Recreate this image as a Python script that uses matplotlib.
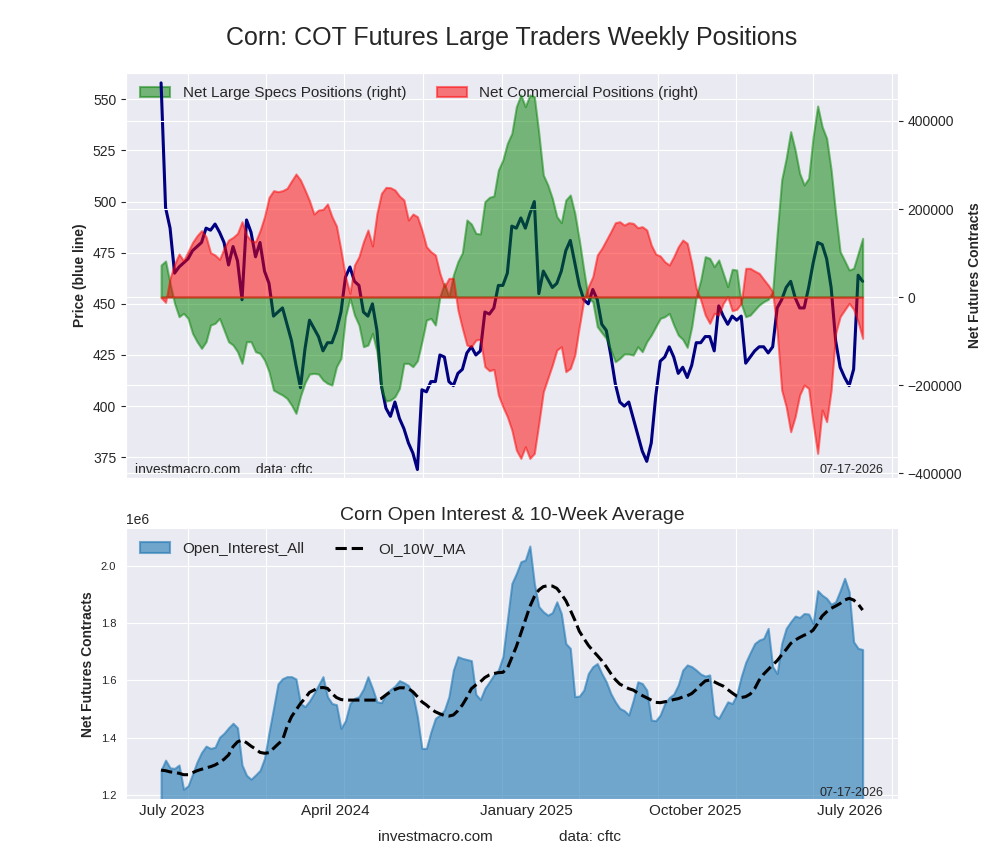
import numpy as np
import pandas as pd
import matplotlib

matplotlib.use("Agg")
import matplotlib.pyplot as plt
import matplotlib.dates as mdates
import matplotlib.ticker as mticker
import seaborn as sns

sns.set_style("darkgrid")
plt.rcParams["font.family"] = ["Liberation Sans", "DejaVu Sans"]

# Weekly data, last report 07-17-2026
LAST_DATE = "2026-07-17"

price = [558, 497, 487, 465, 468, 470, 472, 476, 478, 480,
         487, 486, 489, 485, 480, 469, 478, 471, 452, 491,
         485, 473, 480, 466, 460, 444, 446, 448, 440, 432,
         420, 409, 428, 442, 438, 434, 427, 431, 431, 437,
         446, 463, 468, 461, 459, 446, 444, 450, 437, 410,
         399, 395, 402, 394, 389, 382, 377, 369, 408, 407,
         412, 412, 425, 424, 412, 410, 416, 418, 426, 429,
         425, 427, 446, 445, 448, 459, 459, 465, 488, 487,
         492, 487, 494, 500, 455, 466, 462, 458, 460, 466,
         476, 481, 470, 459, 452, 450, 457, 452, 440, 437,
         425, 411, 402, 400, 402, 394, 386, 378, 373, 382,
         405, 422, 424, 429, 424, 416, 419, 414, 420, 431,
         431, 434, 434, 427, 449, 444, 440, 444, 442, 444,
         421, 424, 427, 429, 429, 426, 429, 448, 452, 458,
         461, 453, 448, 448, 458, 470, 480, 479, 472, 458,
         432, 419, 414, 410, 418, 464, 461]

large_specs_net = [72700, 81800, 31100, -14400, -44700, -37100, -48500, -82600, -101500, -116700,
                   -101500, -63600, -59800, -48500, -75000, -101500, -109100, -124200, -150800, -101500,
                   -101500, -124200, -128000, -143200, -169700, -211400, -217400, -222700, -230300, -245500,
                   -264400, -225000, -194700, -175000, -173500, -175000, -188600, -196200, -200000, -158300,
                   -139400, -44700, -3000, -40900, -63600, -112900, -109100, -82600, -124200, -211400,
                   -236400, -234100, -226500, -207600, -150800, -150800, -158300, -144700, -101500, -52300,
                   -48500, -63600, 800, 31100, 800, 50000, 80300, 100800, 175000, 165900,
                   144700, 143200, 216700, 226500, 229500, 288600, 311400, 349300, 372000, 432600,
                   459100, 432600, 459100, 455300, 372000, 277300, 254600, 224200, 182600, 168900,
                   220500, 231800, 190200, 129500, 61400, -3000, -10600, -67400, -81100, -93900,
                   -120500, -147000, -139400, -129500, -129500, -131800, -112900, -124200, -101500, -86400,
                   -67400, -48500, -44700, -37100, -63600, -86400, -96200, -114400, -67400, 800,
                   38600, 91700, 87900, 68900, 84100, 53800, 23500, 62900, 61400, -15200,
                   -44700, -40900, -29500, -18200, -10600, -5300, 12100, 144700, 265900, 315200,
                   375800, 334100, 281100, 254600, 269700, 364400, 434100, 387100, 360600, 288600,
                   190200, 103000, 82600, 61400, 65200, 99200, 133300]

commercial_net = [-1500, -12100, 42400, 75000, 97700, 82600, 103000, 124200, 139400, 150800,
                  137100, 100800, 95500, 85600, 110600, 129500, 135600, 144700, 171200, 140900,
                  128000, 125800, 150800, 182600, 226500, 241700, 239400, 241700, 247000, 263600,
                  279600, 265900, 243200, 218900, 188600, 197700, 199200, 211400, 182600, 161400,
                  106800, 46200, 8300, 72700, 91700, 125800, 152300, 115900, 190200, 235600,
                  249200, 248500, 243200, 229500, 220500, 175000, 188600, 182600, 152300, 114400,
                  103000, 95500, 53800, 23500, 42400, 42400, -29500, -71200, -109100, -112900,
                  -97700, -96200, -158300, -167400, -164400, -222700, -249200, -272000, -302300, -347700,
                  -366700, -340200, -366700, -355300, -287100, -215200, -184900, -154600, -120500, -112900,
                  -169700, -162100, -131800, -67400, -6800, 23500, 46200, 95500, 110600, 129500,
                  148500, 168900, 171200, 163600, 168900, 167400, 157600, 159900, 152300, 118200,
                  97700, 93200, 80300, 72700, 91700, 114400, 129500, 122000, 76500, 19700,
                  -6800, -40900, -59800, -37100, -40900, -14400, 800, -31100, -28000, -14400,
                  65200, 65200, 59100, 53800, 40200, 27300, 12100, -78800, -211400, -249200,
                  -306100, -272000, -222700, -200000, -207600, -287100, -355300, -256800, -283300, -211400,
                  -82600, -44700, -29500, -14400, -28000, -56100, -93900]

# open interest, millions of contracts
open_interest = [1.286, 1.321, 1.294, 1.292, 1.304, 1.219, 1.231, 1.272, 1.315, 1.348,
                 1.370, 1.362, 1.366, 1.401, 1.415, 1.434, 1.450, 1.434, 1.304, 1.268,
                 1.254, 1.269, 1.285, 1.327, 1.418, 1.502, 1.588, 1.606, 1.613, 1.613,
                 1.605, 1.519, 1.508, 1.528, 1.554, 1.584, 1.613, 1.543, 1.519, 1.515,
                 1.432, 1.459, 1.519, 1.537, 1.543, 1.570, 1.613, 1.572, 1.525, 1.522,
                 1.554, 1.568, 1.580, 1.599, 1.592, 1.582, 1.549, 1.473, 1.362, 1.362,
                 1.420, 1.467, 1.479, 1.496, 1.543, 1.636, 1.683, 1.677, 1.673, 1.669,
                 1.551, 1.533, 1.572, 1.595, 1.619, 1.636, 1.683, 1.811, 1.939, 1.974,
                 2.015, 2.021, 2.070, 1.939, 1.858, 1.840, 1.828, 1.837, 1.875, 1.834,
                 1.729, 1.712, 1.543, 1.545, 1.566, 1.624, 1.648, 1.659, 1.624, 1.595,
                 1.554, 1.525, 1.502, 1.494, 1.479, 1.531, 1.595, 1.589, 1.566, 1.461,
                 1.459, 1.479, 1.519, 1.540, 1.552, 1.584, 1.636, 1.654, 1.648, 1.636,
                 1.622, 1.615, 1.619, 1.479, 1.467, 1.496, 1.525, 1.519, 1.549, 1.613,
                 1.663, 1.697, 1.729, 1.741, 1.747, 1.782, 1.648, 1.624, 1.729, 1.782,
                 1.805, 1.825, 1.820, 1.834, 1.832, 1.799, 1.914, 1.898, 1.887, 1.866,
                 1.875, 1.914, 1.957, 1.910, 1.735, 1.712, 1.708]

oi_10w_ma = [1.286, 1.284, 1.280, 1.278, 1.275, 1.270, 1.270, 1.277, 1.284, 1.289,
             1.294, 1.298, 1.304, 1.313, 1.324, 1.339, 1.368, 1.385, 1.391, 1.382,
             1.370, 1.360, 1.348, 1.345, 1.347, 1.362, 1.377, 1.391, 1.438, 1.473,
             1.496, 1.519, 1.537, 1.558, 1.566, 1.574, 1.575, 1.572, 1.554, 1.540,
             1.533, 1.531, 1.531, 1.531, 1.531, 1.531, 1.531, 1.531, 1.531, 1.537,
             1.549, 1.560, 1.568, 1.574, 1.574, 1.571, 1.560, 1.543, 1.525, 1.514,
             1.500, 1.490, 1.483, 1.477, 1.475, 1.479, 1.494, 1.514, 1.540, 1.571,
             1.584, 1.595, 1.610, 1.619, 1.624, 1.627, 1.628, 1.642, 1.680, 1.718,
             1.764, 1.811, 1.858, 1.893, 1.916, 1.928, 1.931, 1.930, 1.922, 1.902,
             1.879, 1.846, 1.811, 1.772, 1.747, 1.723, 1.704, 1.687, 1.669, 1.648,
             1.624, 1.603, 1.587, 1.579, 1.571, 1.566, 1.556, 1.547, 1.539, 1.531,
             1.523, 1.522, 1.525, 1.528, 1.533, 1.536, 1.542, 1.546, 1.554, 1.568,
             1.584, 1.598, 1.601, 1.595, 1.587, 1.580, 1.568, 1.556, 1.545, 1.540,
             1.543, 1.552, 1.571, 1.601, 1.622, 1.638, 1.654, 1.669, 1.689, 1.708,
             1.729, 1.741, 1.750, 1.758, 1.764, 1.776, 1.799, 1.825, 1.840, 1.852,
             1.860, 1.869, 1.881, 1.887, 1.881, 1.867, 1.846]

# x tick labels and where they sit
tick_dates = ["2023-08-07", "2024-04-17", "2025-02-09", "2025-10-30", "2026-06-27"]
tick_labels = ["July 2023", "April 2024", "January 2025", "October 2025", "July 2026"]


def main() -> None:
    dates = pd.date_range(end=LAST_DATE, periods=len(price), freq="W-FRI")
    oi = np.array(open_interest) * 1e6
    oi_ma = np.array(oi_10w_ma) * 1e6

    fig = plt.figure(figsize=(10, 8.6), dpi=100)
    ax1 = fig.add_axes([0.126, 0.4438, 0.7717, 0.4717])
    ax3 = fig.add_axes([0.126, 0.0706, 0.7717, 0.3151], sharex=ax1)

    # --- top: price + net positions
    ax1.plot(dates, price, color="navy", linewidth=2.2, zorder=6)
    ax1.set_ylim(364.7, 563.0)
    ax1.set_ylabel("Price (blue line)", fontsize=10, fontweight="bold")
    ax1.tick_params(axis="y", labelsize=10)

    ax2 = ax1.twinx()
    ax2.fill_between(dates, large_specs_net, 0, color="green", alpha=0.5, linewidth=1.5,
                     label="Net Large Specs Positions (right)")
    ax2.fill_between(dates, commercial_net, 0, color="red", alpha=0.5, linewidth=1.5,
                     label="Net Commercial Positions (right)")
    ax2.set_ylim(-412000, 509800)
    ax2.set_ylabel("Net Futures Contracts", fontsize=10, fontweight="bold")
    ax2.tick_params(axis="y", labelsize=10)
    ax2.grid(False, axis="x")

    handles, labels = ax2.get_legend_handles_labels()
    ax1.legend(handles, labels, loc="upper left", ncol=2, frameon=False, fontsize=11)

    ax1.text(0.012, 0.02, "investmacro.com    data: cftc", transform=ax1.transAxes,
             fontsize=10, ha="left", va="center", zorder=7)
    ax2.text(0.982, 0.02, "07-17-2026", transform=ax2.transAxes,
             fontsize=9, ha="right", va="center")

    # --- bottom: open interest
    ax3.fill_between(dates, oi, 0, color="tab:blue", alpha=0.6, linewidth=1.5,
                     label="Open_Interest_All")
    ax3.plot(dates, oi_ma, color="black", linestyle="--", linewidth=2.2, label="OI_10W_MA")
    ax3.set_ylim(1.184e6, 2.132e6)
    ax3.set_title("Corn Open Interest & 10-Week Average", fontsize=14)
    ax3.set_ylabel("Net Futures Contracts", fontsize=10, fontweight="bold")
    ax3.tick_params(axis="y", labelsize=8)
    ax3.legend(loc="upper left", ncol=2, frameon=False, fontsize=11)
    ax3.text(0.982, 0.023, "07-17-2026", transform=ax3.transAxes,
             fontsize=9, ha="right", va="center")

    # gridlines every 4 months, labels placed separately
    ax3.xaxis.set_major_locator(mdates.MonthLocator(bymonth=[1, 5, 9]))
    ax3.xaxis.set_major_formatter(mticker.NullFormatter())
    ax3.xaxis.set_minor_locator(mticker.FixedLocator(mdates.datestr2num(tick_dates)))
    ax3.xaxis.set_minor_formatter(mticker.FixedFormatter(tick_labels))
    ax3.tick_params(axis="x", which="minor", labelsize=11, length=0)
    ax1.tick_params(axis="x", which="both", labelbottom=False)

    fig.suptitle("Corn: COT Futures Large Traders Weekly Positions", x=0.512, y=0.956,
                 va="center", fontsize=18)
    fig.text(0.435, 0.027, "investmacro.com", ha="center", va="center", fontsize=11)
    fig.text(0.59, 0.027, "data: cftc", ha="center", va="center", fontsize=11)

    fig.savefig("out.png", dpi=100)
    plt.close(fig)


if __name__ == "__main__":
    main()
